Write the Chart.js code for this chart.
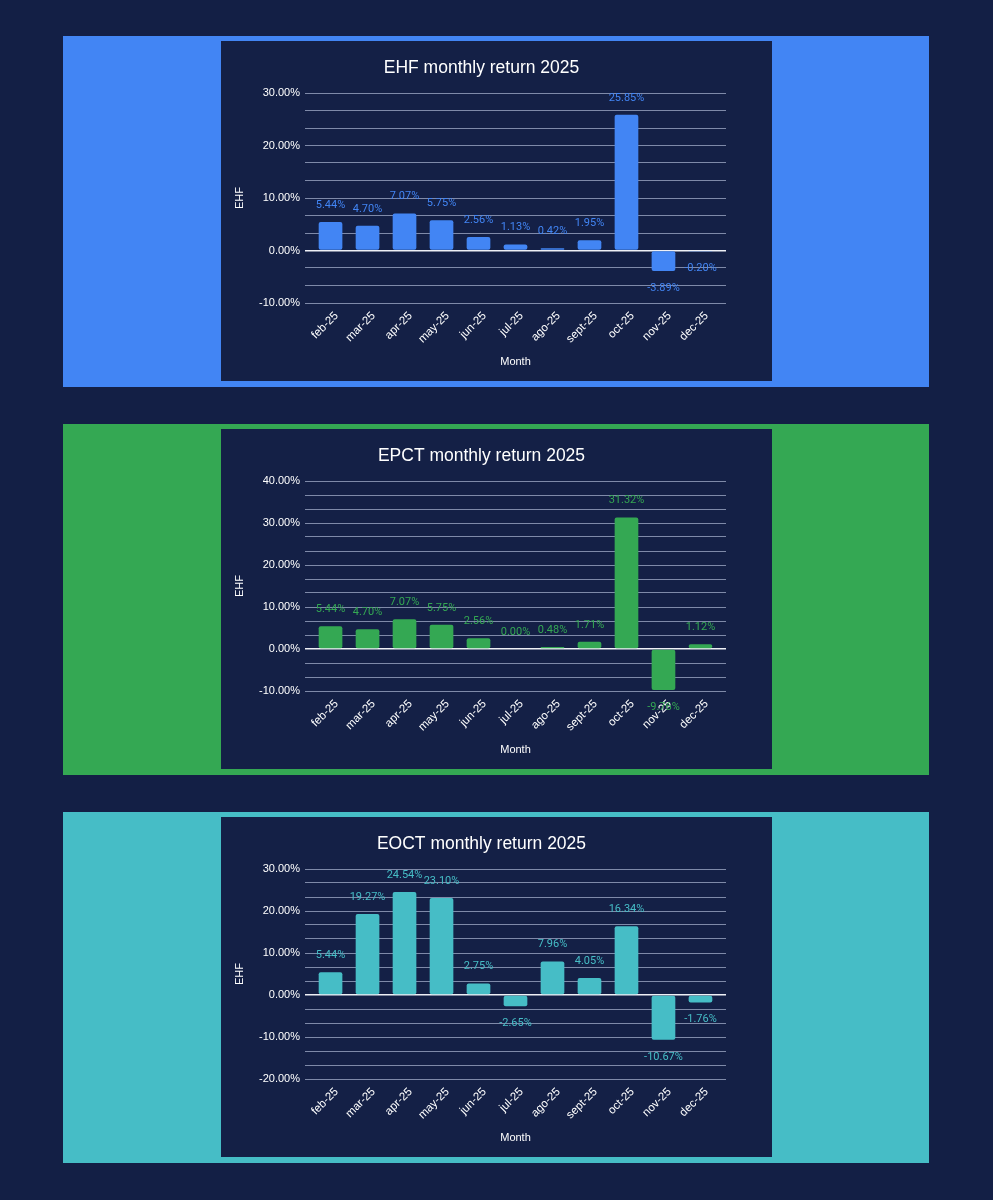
<!DOCTYPE html>
<html>
<head>
<meta charset="utf-8">
<script src="https://cdn.jsdelivr.net/npm/chart.js@4.4.1/dist/chart.umd.min.js"></script>
<style>
  html, body { margin: 0; padding: 0; background: #131f45; }
  body { width: 993px; height: 1200px; position: relative; overflow: hidden; }
  .band { position: absolute; left: 63px; width: 866px; height: 351px; }
  .panel { position: absolute; left: 158px; top: 5px; width: 551px; height: 340px; background: #142046; }
  .panel canvas { display: block; }
</style>
</head>
<body>
  <div class="band" style="top:36px;background:#4285f4;">
    <div class="panel"><canvas id="ehfChart"></canvas></div>
  </div>
  <div class="band" style="top:424px;background:#34a853;">
    <div class="panel"><canvas id="epctChart"></canvas></div>
  </div>
  <div class="band" style="top:812px;background:#46bdc6;">
    <div class="panel"><canvas id="eoctChart"></canvas></div>
  </div>

<script>
// ── data ──
var months = ['feb-25', 'mar-25', 'apr-25', 'may-25', 'jun-25', 'jul-25', 'ago-25', 'sept-25', 'oct-25', 'nov-25', 'dec-25'];

var ehfValues  = [5.44, 4.70, 7.07, 5.75, 2.56, 1.13, 0.42, 1.95, 25.85, -3.89, -0.20];
var epctValues = [5.44, 4.70, 7.07, 5.75, 2.56, 0.00, 0.48, 1.71, 31.32, -9.76, 1.12];
var eoctValues = [5.44, 19.27, 24.54, 23.10, 2.75, -2.65, 7.96, 4.05, 16.34, -10.67, -1.76];

// major y ticks (labelled)
var ehfTicks  = [-10, 0, 10, 20, 30];
var epctTicks = [-10, 0, 10, 20, 30, 40];
var eoctTicks = [-20, -10, 0, 10, 20, 30];

var axisFont = '"Liberation Sans", Arial, sans-serif';

// ── value labels above / below bars ──
var valueLabels = {
  id: 'valueLabels',
  afterDatasetsDraw: function(chart) {
    var ctx = chart.ctx;
    var ds = chart.data.datasets[0];
    var meta = chart.getDatasetMeta(0);
    meta.data.forEach(function(bar, i) {
      var v = ds.data[i].y;
      ctx.save();
      ctx.fillStyle = ds.backgroundColor;
      ctx.font = '11px Roboto';
      ctx.textAlign = 'center';
      ctx.textBaseline = 'middle';
      var y = v >= 0 ? bar.y - 17 : bar.y + 17;
      ctx.fillText(v.toFixed(2) + '%', bar.x, y);
      ctx.restore();
    });
  }
};

function makeChart(id, title, values, majorTicks, color) {
  var lo = majorTicks[0];
  var hi = majorTicks[majorTicks.length - 1];
  var points = values.map(function(v, i) { return { x: i, y: v }; });
  var ctx = document.getElementById(id).getContext('2d');
  return new Chart(ctx, {
    type: 'bar',
    data: {
      datasets: [{
        data: points,
        backgroundColor: color,
        borderRadius: 2,
        borderSkipped: false,
        barPercentage: 0.64,
        categoryPercentage: 1.0
      }]
    },
    options: {
      responsive: true,
      maintainAspectRatio: false,
      animation: false,
      layout: { padding: { left: 16, right: 46, top: 0, bottom: 0 } },
      plugins: {
        legend: { display: false },
        tooltip: { enabled: false },
        title: {
          display: true,
          text: title,
          color: '#ffffff',
          font: { family: axisFont, size: 17.5, weight: 'normal' },
          padding: { top: 17, bottom: 14 }
        }
      },
      scales: {
        x: {
          type: 'linear',
          offset: false,
          min: -0.69,
          max: months.length - 1 + 0.69,
          grid: { display: false, drawTicks: false },
          border: { display: false },
          afterFit: function(scale) { scale.height = 78; },
          afterBuildTicks: function(scale) {
            scale.ticks = months.map(function(m, i) { return { value: i }; });
          },
          ticks: {
            color: '#ffffff',
            font: { family: axisFont, size: 11.5 },
            maxRotation: 45,
            minRotation: 45,
            padding: 6,
            labelOffset: 6,
            autoSkip: false,
            callback: function(v) { return months[v]; }
          },
          title: {
            display: true,
            text: 'Month',
            color: '#ffffff',
            font: { family: axisFont, size: 11 },
            padding: { top: 0, bottom: 12 }
          }
        },
        y: {
          min: lo,
          max: hi,
          afterFit: function(scale) { scale.width = 68; },
          afterBuildTicks: function(scale) {
            // two minor gridlines between each labelled tick
            var t = [];
            for (var i = 0; i < majorTicks.length; i++) {
              t.push({ value: majorTicks[i], major: true });
              if (i < majorTicks.length - 1) {
                var step = (majorTicks[i + 1] - majorTicks[i]) / 3;
                t.push({ value: majorTicks[i] + step });
                t.push({ value: majorTicks[i] + 2 * step });
              }
            }
            scale.ticks = t;
          },
          grid: {
            drawTicks: false,
            color: function(c) {
              if (c.tick && c.tick.value === 0) return '#eef0f6';
              return 'rgba(178,188,216,0.68)';
            },
            lineWidth: function(c) {
              return c.tick && c.tick.value === 0 ? 1.5 : 1;
            }
          },
          border: { display: false },
          ticks: {
            color: '#ffffff',
            font: { family: axisFont, size: 11 },
            padding: 5,
            autoSkip: false,
            callback: function(v) {
              return majorTicks.indexOf(v) >= 0 ? v.toFixed(2) + '%' : '';
            }
          },
          title: {
            display: true,
            text: 'EHF',
            color: '#ffffff',
            font: { family: axisFont, size: 11, lineHeight: 0.5 },
            padding: { top: 0, bottom: 0 }
          }
        }
      }
    },
    plugins: [valueLabels]
  });
}

makeChart('ehfChart', 'EHF monthly return 2025', ehfValues, ehfTicks, '#4285f4');
makeChart('epctChart', 'EPCT monthly return 2025', epctValues, epctTicks, '#34a853');
makeChart('eoctChart', 'EOCT monthly return 2025', eoctValues, eoctTicks, '#46bdc6');
</script>
</body>
</html>
